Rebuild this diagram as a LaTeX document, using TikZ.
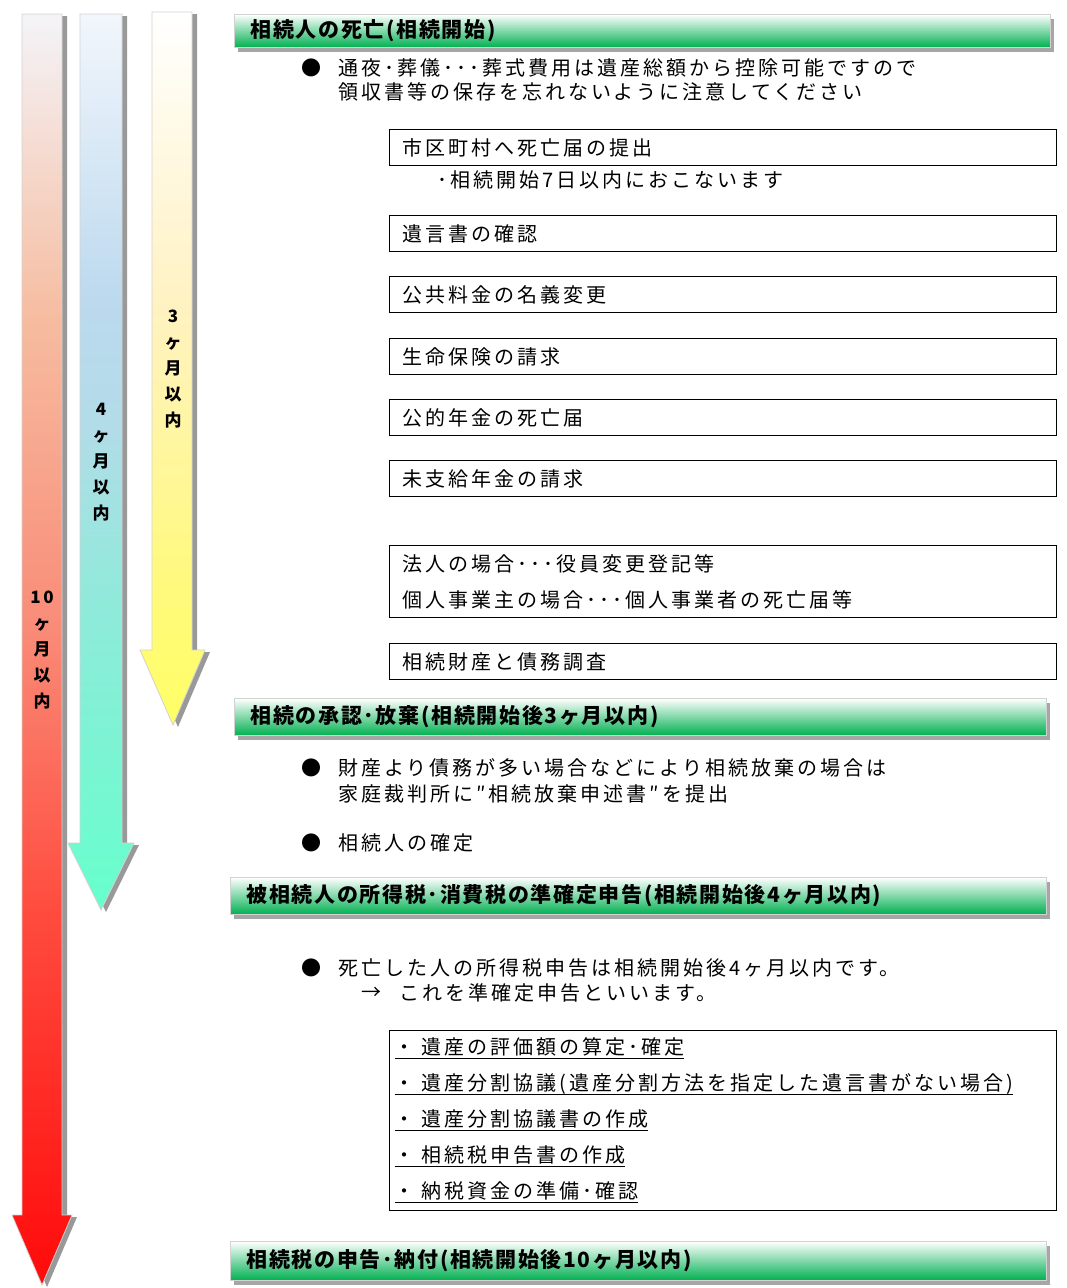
\documentclass[tikz,border=0pt]{standalone}
\usepackage{fontspec}
\setmainfont{Noto Sans CJK JP}[LetterSpace=15]
\usetikzlibrary{shadows}

\definecolor{hdrgreen}{HTML}{00B050}
% colours for the three period arrows
\definecolor{redA}{HTML}{F4F4F8}
\definecolor{redB}{HTML}{F6BCA0}
\definecolor{redC}{HTML}{F98C78}
\definecolor{redD}{HTML}{FF4D40}
\definecolor{redE}{HTML}{FF0A0A}
\definecolor{bluA}{HTML}{F2F6FC}
\definecolor{bluB}{HTML}{BCD9EE}
\definecolor{bluC}{HTML}{B2DCE8}
\definecolor{bluD}{HTML}{8FEADA}
\definecolor{bluE}{HTML}{66FFCC}
\definecolor{yelA}{HTML}{FFFFFF}
\definecolor{yelB}{HTML}{FFF2C4}
\definecolor{yelC}{HTML}{FFFA7A}
\definecolor{yelD}{HTML}{FFFF66}

\pgfdeclareverticalshading{redfade}{100bp}{color(0bp)=(redE); color(25bp)=(redE);
  color(40bp)=(redD); color(51bp)=(redC); color(63bp)=(redB); color(75bp)=(redA); color(100bp)=(redA)}
\pgfdeclareverticalshading{bluefade}{100bp}{color(0bp)=(bluE); color(25bp)=(bluE);
  color(42bp)=(bluD); color(52bp)=(bluC); color(59bp)=(bluB); color(75bp)=(bluA); color(100bp)=(bluA)}
\pgfdeclareverticalshading{yellowfade}{100bp}{color(0bp)=(yelD); color(25bp)=(yelD);
  color(34bp)=(yelC); color(55bp)=(yelB); color(75bp)=(yelA); color(100bp)=(yelA)}

\newcommand\bodysize{\fontsize{20}{24}\selectfont}
\newcommand\hdrsize{\fontsize{21}{24}\selectfont\bfseries\addfontfeatures{LetterSpace=8}}
\newcommand\ulitem[1]{\leavevmode\setbox0\hbox{#1}\rlap{\rule[-4.5pt]{\wd0}{1.3pt}}\box0}

\begin{document}
\begin{tikzpicture}[x=1pt, y=-1pt,
    period/.style={draw=gray!35, line width=0.8pt,
      drop shadow={shadow xshift=5pt, shadow yshift=-2pt, opacity=0.4, fill=black}},
    months/.style={font=\fontsize{17}{26}\selectfont\bfseries, align=center, inner sep=0pt},
    hdr/.style={draw=gray!35, line width=0.8pt, top color=white, bottom color=hdrgreen,
      anchor=north west, inner xsep=16pt, inner ysep=0pt, align=left,
      font=\hdrsize,
      drop shadow={shadow xshift=4pt, shadow yshift=-5pt, opacity=0.35, fill=black}},
    task/.style={draw=black, line width=1.3pt, fill=white, anchor=north west,
      minimum height=36pt, text width=641pt, inner xsep=13pt, inner ysep=0pt,
      align=left, font=\bodysize},
    txt/.style={anchor=west, inner sep=0pt, font=\bodysize},
    dot/.style={inner sep=0pt, font=\bodysize}]
  \useasboundingbox (0,0) rectangle (1067,1288);

  % period arrows (10, 4 and 3 months)
  \shade[period, shading=redfade]
    (22,14) -- (62,14) -- (62,1215) -- (72,1215) -- (42,1285) -- (12,1215) -- (22,1215) -- cycle;
  \shade[period, shading=bluefade]
    (80,14) -- (122,14) -- (122,843) -- (134,843) -- (101,910) -- (68,843) -- (80,843) -- cycle;
  \shade[period, shading=yellowfade]
    (152,12) -- (192,12) -- (192,650) -- (205,650) -- (173,725) -- (140,650) -- (152,650) -- cycle;
  \node[months] (m10) at (42,650.5) {10\\ヶ\\月\\以\\内};
  \node[months] (m4) at (101,462.5) {4\\ヶ\\月\\以\\内};
  \node[months] (m3) at (173,369.5) {3\\ヶ\\月\\以\\内};

  % 1. death
  \node[hdr, minimum width=816pt, minimum height=33pt, text width=784pt] (start) at (234,14)
    {相続人の死亡(相続開始)};
  \node[dot] (b1) at (311,68) {●};
  \node[txt] (funeral1) at (338,68) {通夜･葬儀･･･葬式費用は遺産総額から控除可能ですので};
  \node[txt] (funeral2) at (338,92) {領収書等の保存を忘れないように注意してください};

  \node[task] (notice) at (389,129) {市区町村へ死亡届の提出};
  \node[txt] (within7) at (437,180) {･相続開始7日以内におこないます};
  \node[task] (will) at (389,215) {遺言書の確認};
  \node[task] (utility) at (389,276) {公共料金の名義変更};
  \node[task] (insurance) at (389,338) {生命保険の請求};
  \node[task] (pension) at (389,399) {公的年金の死亡届};
  \node[task] (unpaid) at (389,460) {未支給年金の請求};
  \node[task, minimum height=72pt, font=\fontsize{20}{36}\selectfont] (business) at (389,545)
    {法人の場合･･･役員変更登記等\\個人事業主の場合･･･個人事業者の死亡届等};
  \node[task] (survey) at (389,643) {相続財産と債務調査};

  % 2. acceptance or renunciation
  \node[hdr, minimum width=812pt, minimum height=37pt, text width=780pt] (accept) at (234,698)
    {相続の承認･放棄(相続開始後3ヶ月以内)};
  \node[dot] (b2) at (311,768) {●};
  \node[txt] (renounce1) at (338,768) {財産より債務が多い場合などにより相続放棄の場合は};
  \node[txt] (renounce2) at (338,794) {家庭裁判所に″相続放棄申述書″を提出};
  \node[dot] (b3) at (311,843) {●};
  \node[txt] (heirs) at (338,843) {相続人の確定};

  % 3. final income tax return
  \node[hdr, minimum width=816pt, minimum height=37pt, text width=784pt] (income) at (230,877)
    {被相続人の所得税･消費税の準確定申告(相続開始後4ヶ月以内)};
  \node[dot] (b4) at (311,968) {●};
  \node[txt] (return1) at (338,968) {死亡した人の所得税申告は相続開始後4ヶ月以内です。};
  \node[txt] (arrow) at (361,993) {→};
  \node[txt] (return2) at (399,993) {これを準確定申告といいます。};

  \node[task, minimum height=180pt, inner xsep=5pt, text width=657pt,
    font=\fontsize{20}{36}\selectfont] (estate) at (389,1030)
    {\ulitem{・ 遺産の評価額の算定･確定}\\
     \ulitem{・ 遺産分割協議(遺産分割方法を指定した遺言書がない場合)}\\
     \ulitem{・ 遺産分割協議書の作成}\\
     \ulitem{・ 相続税申告書の作成}\\
     \ulitem{・ 納税資金の準備･確認}};

  % 4. inheritance tax
  \node[hdr, minimum width=816pt, minimum height=39pt, text width=784pt] (taxreturn) at (230,1241)
    {相続税の申告･納付(相続開始後10ヶ月以内)};
\end{tikzpicture}
\end{document}
